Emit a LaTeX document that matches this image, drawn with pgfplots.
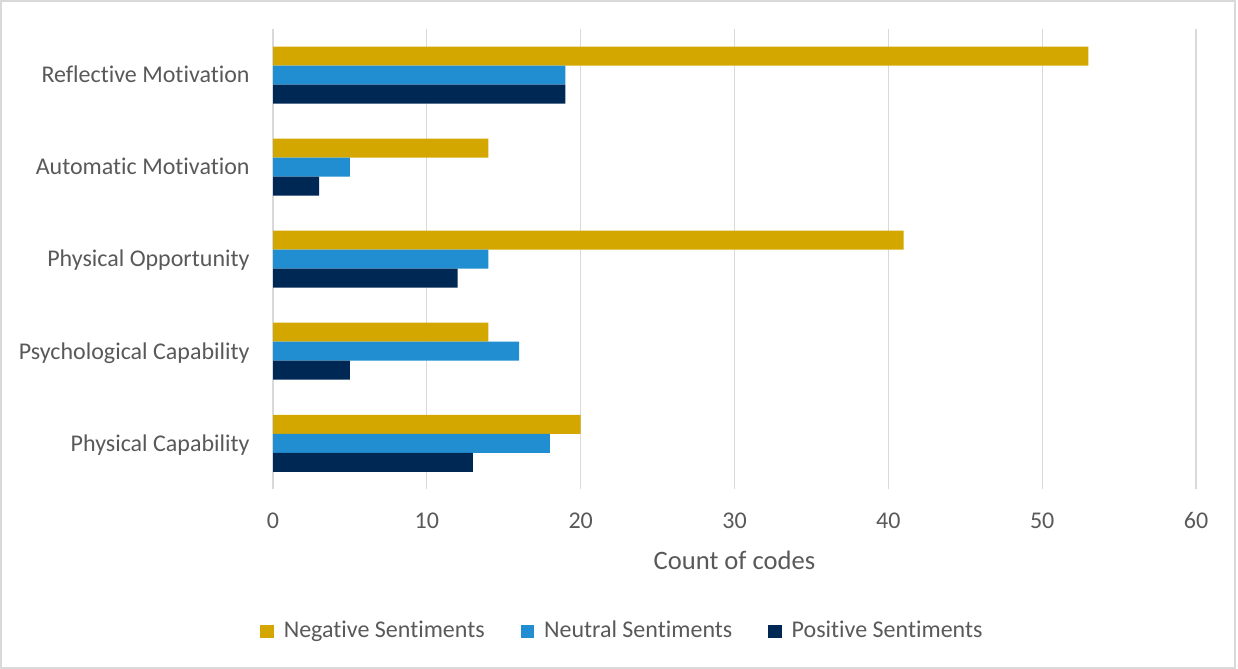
\documentclass[border=0pt]{standalone}
\usepackage{pgfplots}
\pgfplotsset{compat=1.18}
\usepackage{fontspec}
\setmainfont{Carlito}[Ligatures={NoCommon}]
\definecolor{negcol}{HTML}{D4A600}
\definecolor{neucol}{HTML}{228ED2}
\definecolor{poscol}{HTML}{002855}
\definecolor{txtgray}{HTML}{595959}
\definecolor{gridgray}{HTML}{D9D9D9}

\begin{document}
\begin{tikzpicture}
% 1 px of the reference = 0.5pt
\path (0pt,0pt) rectangle (619pt,334.5pt);
\draw[gridgray, line width=0.6pt] (0.5pt,0.5pt) rectangle (617.5pt,334pt);
\begin{axis}[
  at={(136.5pt,89.85pt)}, anchor=south west,
  scale only axis, width=461.5pt, height=230.15pt,
  xbar, bar width=9.5pt,
  xmin=0, xmax=60, xtick={0,10,...,60},
  ymin=-0.5, ymax=4.5, ytick={0,1,2,3,4},
  yticklabels={Physical Capability, Psychological Capability, Physical Opportunity, Automatic Motivation, Reflective Motivation},
  axis line style={draw=none}, major tick length=0pt,
  xmajorgrids, grid style={gridgray, line width=0.6pt},
  /pgf/number format/assume math mode=true,
  tick label style={font=\fontsize{12}{14}\selectfont, text=txtgray},
  xticklabel style={anchor=center, yshift=-15.6pt},
  yticklabel style={anchor=base east, inner sep=0pt, xshift=-11.5pt, yshift=-3.9pt},
  xlabel={Count of codes},
  xlabel style={font=\fontsize{13.3}{16}\selectfont, text=txtgray, at={(axis description cs:0.5,-0.1536)}, anchor=center},
  legend columns=3,
  legend style={at={(0.3797,-0.3078)}, anchor=center, draw=none, fill=none, inner sep=0pt,
    font=\fontsize{12}{14}\selectfont, text=txtgray,
    /tikz/every even column/.append style={column sep=16pt}},
  legend image code/.code={\fill[#1] (0pt,-3.5pt) rectangle (6.7pt,3.2pt); \path (9.7pt,0pt);},
  clip=false,
]
\addplot[fill=negcol, draw=none, bar shift=9.5pt] coordinates {(20,0) (14,1) (41,2) (14,3) (53,4)};
\addlegendentry{Negative Sentiments}
\addplot[fill=neucol, draw=none, bar shift=0pt] coordinates {(18,0) (16,1) (14,2) (5,3) (19,4)};
\addlegendentry{Neutral Sentiments}
\addplot[fill=poscol, draw=none, bar shift=-9.5pt] coordinates {(13,0) (5,1) (12,2) (3,3) (19,4)};
\addlegendentry{Positive Sentiments}
\end{axis}
\end{tikzpicture}
\end{document}
